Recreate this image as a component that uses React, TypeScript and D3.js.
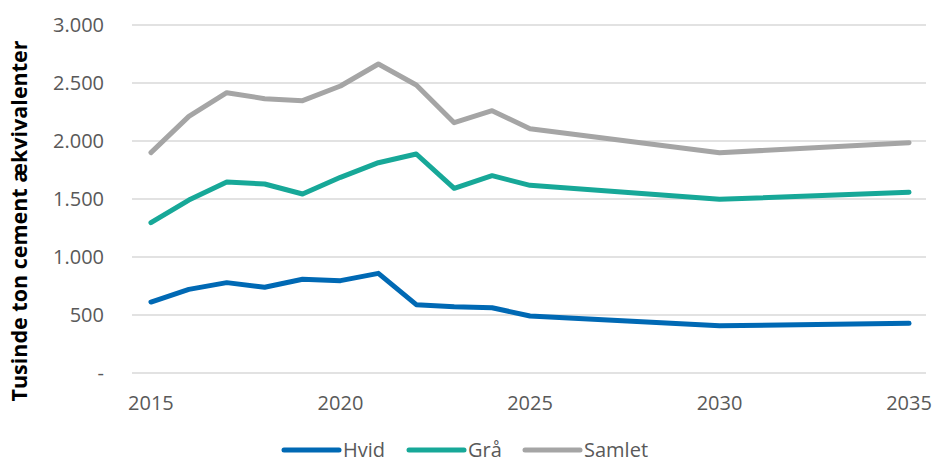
import { useEffect, useRef } from "react";
import * as d3 from "d3";

const years = [2015, 2016, 2017, 2018, 2019, 2020, 2021, 2022, 2023, 2024, 2025, 2030, 2035];
const hvid = [612, 721, 779, 739, 808, 796, 859, 589, 572, 563, 491, 408, 428];
const graa = [1296, 1491, 1647, 1629, 1543, 1687, 1813, 1888, 1592, 1701, 1618, 1497, 1558];
const samlet = [1900, 2212, 2416, 2365, 2348, 2474, 2664, 2483, 2158, 2261, 2106, 1899, 1985];

const seriesNames = ["Hvid", "Grå", "Samlet"];
const seriesColors = ["#0069B4", "#17A898", "#A5A5A5"];
const xTicks = [2015, 2020, 2025, 2030, 2035];
const yTicks = [0, 500, 1000, 1500, 2000, 2500, 3000];

const W = 932;
const H = 464;
const FONT = "'Open Sans', 'Noto Sans', sans-serif";

export default function App() {
  const ref = useRef<SVGSVGElement>(null);

  useEffect(() => {
    document.body.style.margin = "0";
    if (!ref.current) return;
    const svg = d3.select(ref.current);
    svg.selectAll("*").remove();

    const x = d3.scaleLinear().domain([2014.5, 2035.5]).range([132, 928]);
    const y = d3.scaleLinear().domain([0, 3000]).range([373, 25]);

    // gridlines
    svg
      .append("g")
      .selectAll("line")
      .data(yTicks)
      .join("line")
      .attr("x1", 132)
      .attr("x2", 926)
      .attr("y1", (d) => y(d))
      .attr("y2", (d) => y(d))
      .attr("stroke", "#D9D9D9")
      .attr("stroke-width", 1.5);

    // y labels
    svg
      .append("g")
      .selectAll("text")
      .data(yTicks)
      .join("text")
      .attr("x", 104)
      .attr("y", (d) => y(d))
      .attr("dy", "0.35em")
      .attr("text-anchor", "end")
      .attr("font-family", FONT)
      .attr("font-size", 20)
      .attr("fill", "#595959")
      .text((d) => (d === 0 ? "-" : d3.format(",")(d).replace(",", ".")));

    // x labels
    svg
      .append("g")
      .selectAll("text")
      .data(xTicks)
      .join("text")
      .attr("x", (d) => x(d))
      .attr("y", 410)
      .attr("text-anchor", "middle")
      .attr("font-family", FONT)
      .attr("font-size", 20)
      .attr("fill", "#595959")
      .text((d) => d);

    // y title
    svg
      .append("text")
      .attr("transform", "translate(27,221) rotate(-90)")
      .attr("text-anchor", "middle")
      .attr("font-family", FONT)
      .attr("font-size", 21.5)
      .attr("font-weight", "bold")
      .attr("fill", "#000")
      .text("Tusinde ton cement ækvivalenter");

    const allSeries = [hvid, graa, samlet];
    const line = d3
      .line<number>()
      .x((_, i) => x(years[i]))
      .y((d) => y(d));

    [2, 1, 0].forEach((k) => {
      svg
        .append("path")
        .datum(allSeries[k])
        .attr("d", line)
        .attr("fill", "none")
        .attr("stroke", seriesColors[k])
        .attr("stroke-width", 5)
        .attr("stroke-linejoin", "round")
        .attr("stroke-linecap", "round");
    });

    // legend
    const legendX = [284, 409, 525];
    const lg = svg
      .append("g")
      .selectAll("g")
      .data(seriesNames)
      .join("g")
      .attr("transform", (_, i) => `translate(${legendX[i]},450)`);
    lg.append("line")
      .attr("x1", 0)
      .attr("x2", 55)
      .attr("stroke", (_, i) => seriesColors[i])
      .attr("stroke-width", 5)
      .attr("stroke-linecap", "round");
    lg.append("text")
      .attr("x", 59)
      .attr("dy", "0.35em")
      .attr("font-family", FONT)
      .attr("font-size", 20)
      .attr("fill", "#595959")
      .text((d) => d);
  }, []);

  return <svg ref={ref} width={W} height={H} style={{ display: "block" }} />;
}
